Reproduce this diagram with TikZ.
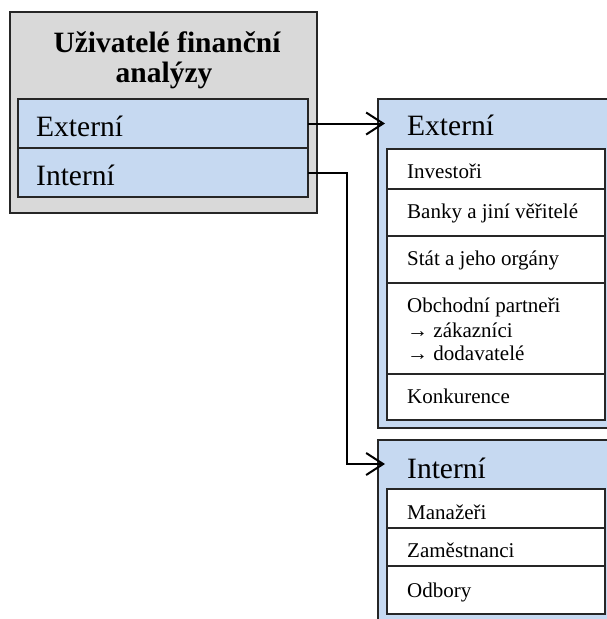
\documentclass[tikz,border=0pt]{standalone}
\usepackage{fontspec}
\setmainfont{Liberation Serif}
\usetikzlibrary{arrows.meta}
\definecolor{boxgray}{HTML}{D9D9D9}
\definecolor{boxblue}{HTML}{C6D9F1}
\definecolor{edge}{HTML}{262626}
\tikzset{
  frame/.style={draw=edge, line width=1.4pt, inner sep=0pt, outer sep=0pt, anchor=north west},
  graybox/.style={frame, fill=boxgray},
  bluebox/.style={frame, fill=boxblue},
  itembox/.style={frame, fill=white},
  titletxt/.style={anchor=base, inner sep=0pt, font=\fontsize{29.5}{30}\selectfont\bfseries},
  rowtxt/.style={anchor=base west, inner sep=0pt, font=\fontsize{29.5}{30}\selectfont},
  itemtxt/.style={anchor=base west, inner sep=0pt, align=left, font=\fontsize{21}{24}\selectfont},
  conn/.style={draw=black, line width=2pt, -{Straight Barb[length=17pt, width=22pt, line width=2pt]}, shorten >=-7pt}
}
\begin{document}
\begin{tikzpicture}[x=1pt, y=-1pt]
\useasboundingbox (0,0) rectangle (607,619);
\clip (0,0) rectangle (607,619);
% left group
\node[graybox, minimum width=307pt, minimum height=201pt] (gbox) at (10,12) {};
\node[titletxt] (t1) at (167,52) {Uživatelé finanční};
\node[titletxt] (t2) at (164,82) {analýzy};
\node[bluebox, minimum width=290pt, minimum height=49pt] (lext) at (18,99) {};
\node[bluebox, minimum width=290pt, minimum height=49pt] (lint) at (18,148) {};
\node[rowtxt] (lexttxt) at (36,136) {Externí};
\node[rowtxt] (linttxt) at (36,185) {Interní};
% external group
\node[bluebox, minimum width=250pt, minimum height=329pt] (ebox) at (378,99) {};
\node[rowtxt] (etitle) at (407,135) {Externí};
\node[itembox, minimum width=218pt, minimum height=40pt] (e1) at (387,149) {};
\node[itembox, minimum width=218pt, minimum height=47pt] (e2) at (387,189) {};
\node[itembox, minimum width=218pt, minimum height=47pt] (e3) at (387,236) {};
\node[itembox, minimum width=218pt, minimum height=91pt] (e4) at (387,283) {};
\node[itembox, minimum width=218pt, minimum height=46pt] (e5) at (387,374) {};
\node[itemtxt] (e1t) at (407,178) {Investoři};
\node[itemtxt] (e2t) at (407,218) {Banky a jiní věřitelé};
\node[itemtxt] (e3t) at (407,265) {Stát a jeho orgány};
\node[itemtxt] (e4t) at (407,312) {Obchodní partneři};
\node[itemtxt] (e4u) at (407,337) {→ zákazníci};
\node[itemtxt] (e4v) at (407,360) {→ dodavatelé};
\node[itemtxt] (e5t) at (407,403) {Konkurence};
% internal group
\node[bluebox, minimum width=250pt, minimum height=200pt] (ibox) at (378,440) {};
\node[rowtxt] (ititle) at (407,478) {Interní};
\node[itembox, minimum width=218pt, minimum height=39pt] (i1) at (387,489) {};
\node[itembox, minimum width=218pt, minimum height=38pt] (i2) at (387,528) {};
\node[itembox, minimum width=218pt, minimum height=48pt] (i3) at (387,566) {};
\node[itemtxt] (i1t) at (407,519) {Manažeři};
\node[itemtxt] (i2t) at (407,557) {Zaměstnanci};
\node[itemtxt] (i3t) at (407,597) {Odbory};
% connectors
\draw[conn] (lext.east) -- (lext.east -| ebox.west);
\draw[conn] (lint.east) -- ++(39,0) |- ([yshift=-24pt]ibox.north west);
\end{tikzpicture}
\end{document}
